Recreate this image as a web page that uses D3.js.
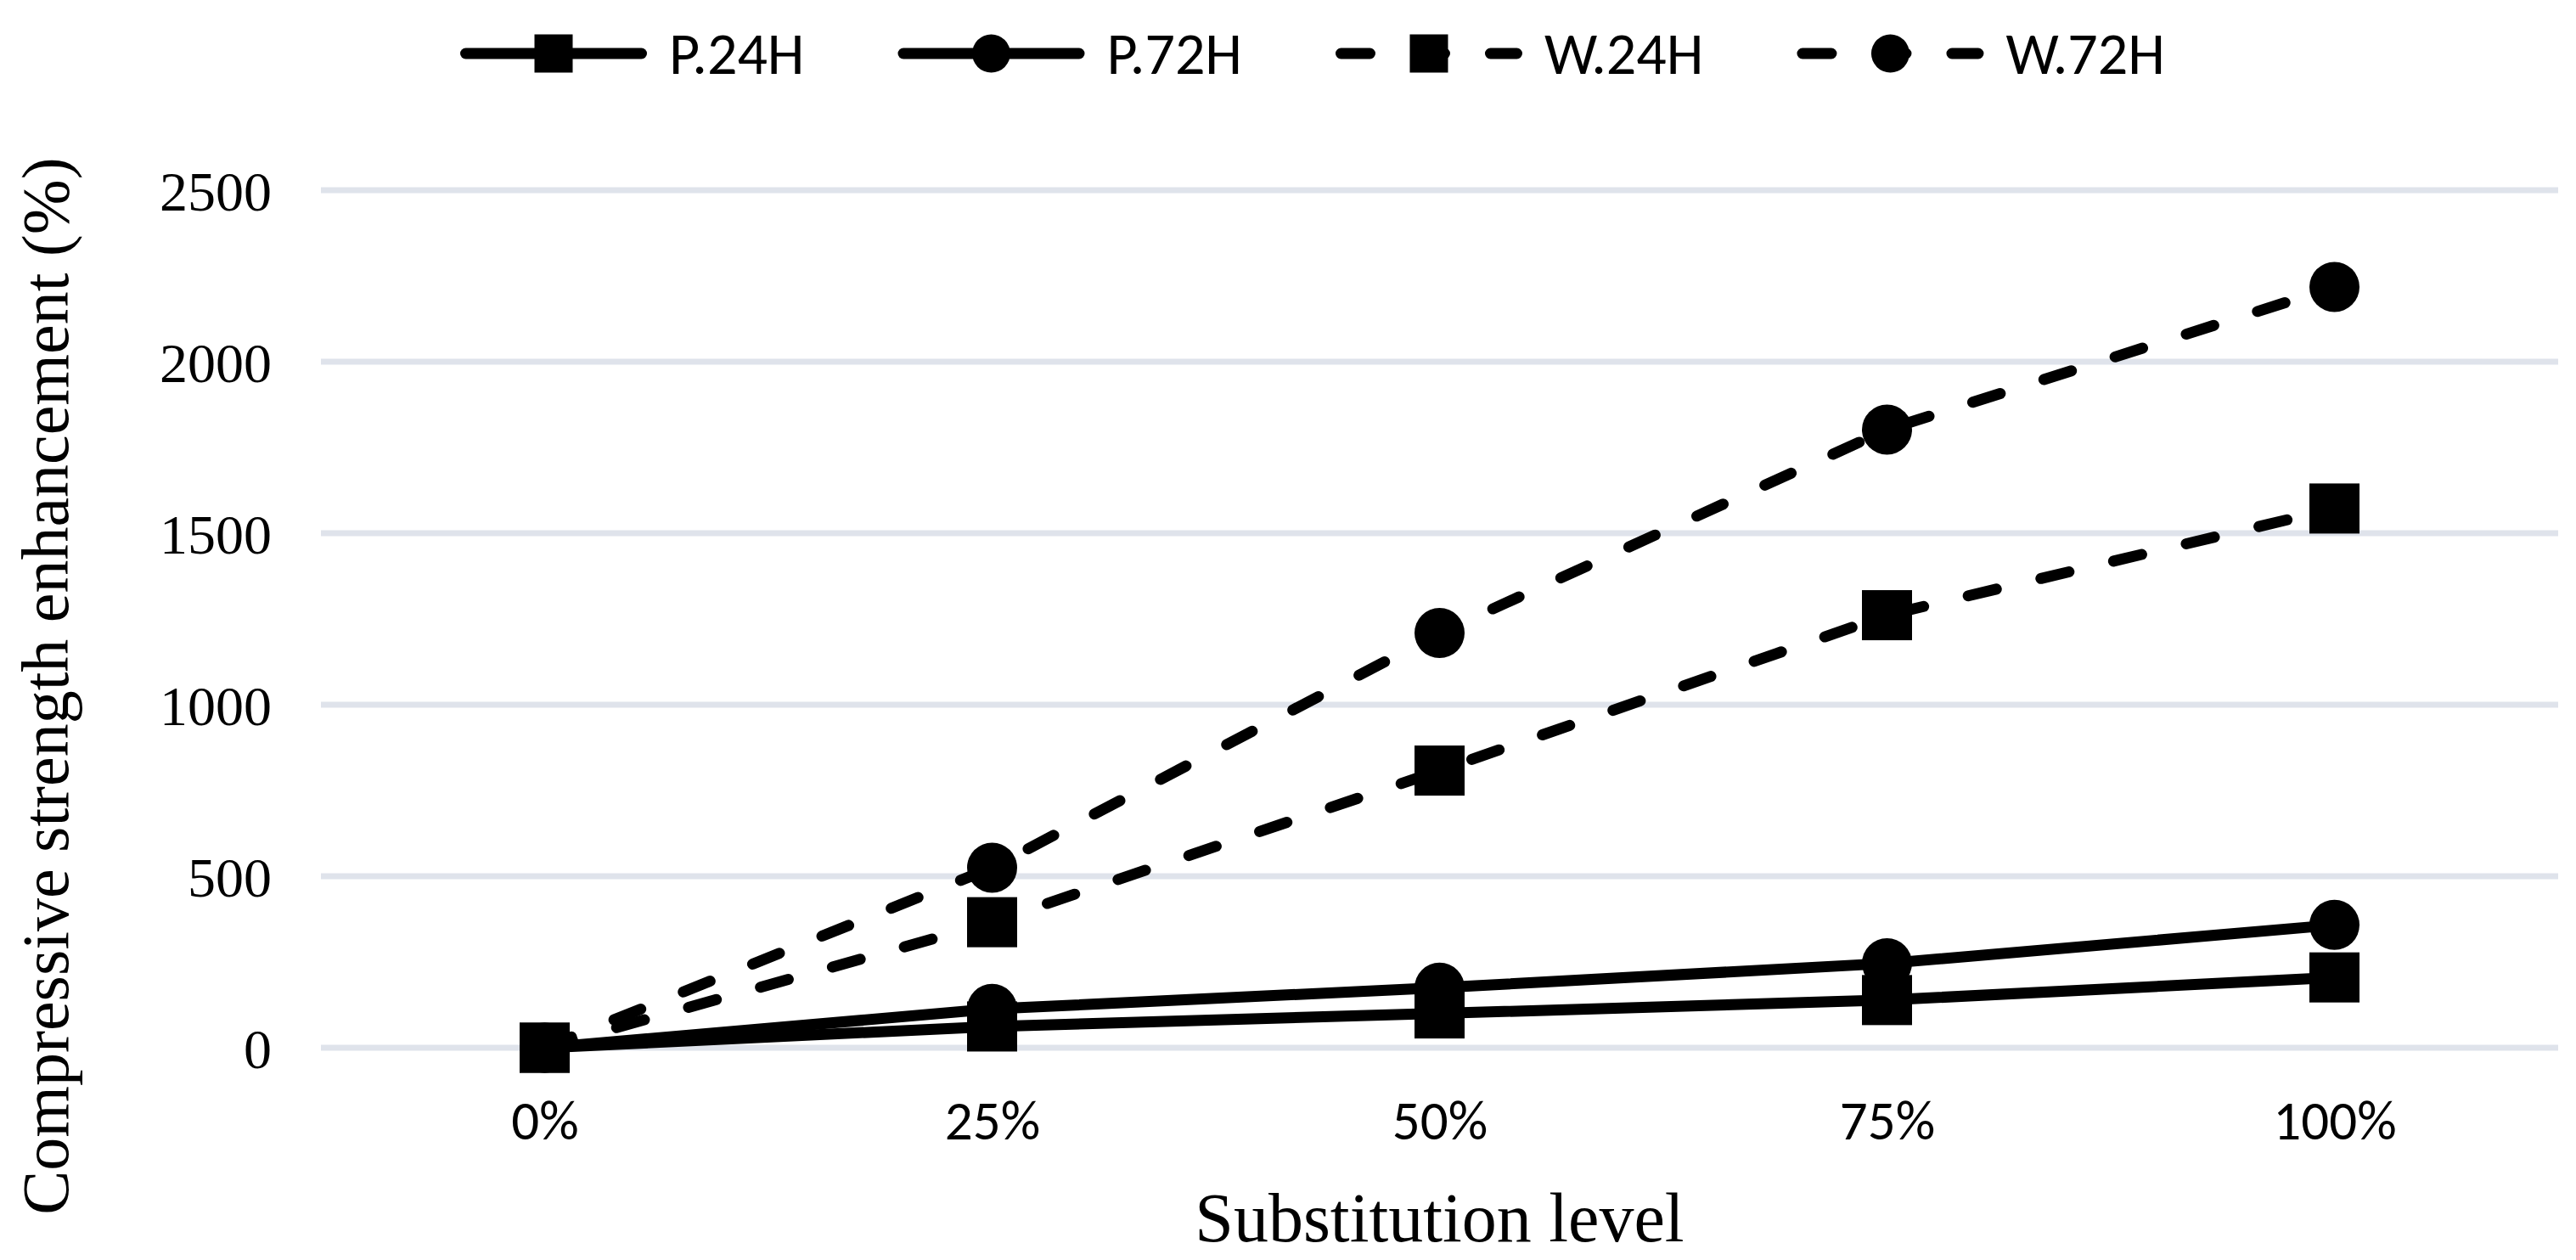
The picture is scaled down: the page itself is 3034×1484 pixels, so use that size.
<!DOCTYPE html>
<html>
<head>
<meta charset="utf-8">
<script src="https://cdn.jsdelivr.net/npm/d3@7"></script>
<style>
    body { margin: 0; background: #fff; }
    .tick-y { font-family: "Liberation Serif", "Times New Roman", serif; font-size: 66px; fill: #000; }
    .tick-x { font-family: Carlito, Calibri, Lato, sans-serif; font-size: 65px; fill: #000; }
    .axis-title { font-family: "Liberation Serif", "Times New Roman", serif; fill: #000; }
    .legend-text { font-family: Carlito, Calibri, Lato, sans-serif; font-size: 70px; fill: #000; }
</style>
</head>
<body>
<script>
(function() {
    // chart data
    const categories = ["0%", "25%", "50%", "75%", "100%"];
    const seriesNames = ["P.24H", "P.72H", "W.24H", "W.72H"];
    const p24 = [0, 62, 100, 139, 205];
    const p72 = [0, 113, 175, 246, 358];
    const w24 = [0, 366, 808, 1261, 1572];
    const w72 = [0, 525, 1209, 1802, 2218];
    const yTicks = [0, 500, 1000, 1500, 2000, 2500];

    const totalWidth = 3034;
    const totalHeight = 1484;
    const margin = { top: 224, right: 21, bottom: 250, left: 378 };
    const width = totalWidth - margin.left - margin.right;
    const height = totalHeight - margin.top - margin.bottom;

    const series = [
        { name: seriesNames[0], values: p24, marker: "square", dashed: false },
        { name: seriesNames[1], values: p72, marker: "circle", dashed: false },
        { name: seriesNames[2], values: w24, marker: "square", dashed: true },
        { name: seriesNames[3], values: w72, marker: "circle", dashed: true }
    ];

    const root = d3.select("body")
        .append("svg")
        .attr("width", totalWidth)
        .attr("height", totalHeight);

    const svg = root.append("g")
        .attr("transform", "translate(" + margin.left + "," + margin.top + ")");

    const xScale = d3.scalePoint().domain(categories).range([0, width]).padding(0.5);
    const yScale = d3.scaleLinear().domain([0, 2500]).range([height, 0]);

    // gridlines
    svg.append("g")
        .selectAll("line")
        .data(yTicks)
        .enter().append("line")
        .attr("x1", 0)
        .attr("x2", width)
        .attr("y1", d => yScale(d))
        .attr("y2", d => yScale(d))
        .style("stroke", "#dfe3eb")
        .style("stroke-width", 7);

    // Y axis labels
    const yAxis = svg.append("g")
        .call(d3.axisLeft(yScale).tickValues(yTicks).tickFormat(d3.format("d")).tickSize(0).tickPadding(58));
    yAxis.select(".domain").remove();
    yAxis.selectAll("text")
        .attr("class", "tick-y")
        .attr("dy", "0.35em")
        .attr("font-family", null)
        .attr("font-size", null);

    // X axis labels
    const xAxis = svg.append("g")
        .attr("transform", "translate(0," + height + ")")
        .call(d3.axisBottom(xScale).tickSize(0).tickPadding(0));
    xAxis.select(".domain").remove();
    xAxis.selectAll("text")
        .attr("class", "tick-x")
        .attr("y", 108)
        .attr("dy", 0)
        .attr("font-family", null)
        .attr("font-size", null);

    // axis titles
    root.append("text")
        .attr("class", "axis-title")
        .attr("x", margin.left + width / 2)
        .attr("y", 1462)
        .attr("text-anchor", "middle")
        .attr("style", "font-size: 82px;")
        .text("Substitution level");

    root.append("text")
        .attr("class", "axis-title")
        .attr("transform", "translate(80,808) rotate(-90)")
        .attr("text-anchor", "middle")
        .attr("style", "font-size: 78px;")
        .text("Compressive strength enhancement (%)");

    const line = d3.line()
        .x((d, i) => xScale(categories[i]))
        .y(d => yScale(d));

    function drawMarker(g, type, x, y, size) {
        if (type === "square") {
            g.append("rect")
                .attr("x", x - size / 2)
                .attr("y", y - size / 2)
                .attr("width", size)
                .attr("height", size)
                .style("fill", "#000");
        } else {
            g.append("circle")
                .attr("cx", x)
                .attr("cy", y)
                .attr("r", size / 2)
                .style("fill", "#000");
        }
    }

    // lines and markers
    series.forEach(s => {
        const g = svg.append("g");
        g.append("path")
            .datum(s.values)
            .attr("d", line)
            .style("fill", "none")
            .style("stroke", "#000")
            .style("stroke-width", 13)
            .style("stroke-linecap", s.dashed ? "round" : "butt")
            .style("stroke-linejoin", "round")
            .style("stroke-dasharray", s.dashed ? "34,54" : null);
        s.values.forEach((v, i) => drawMarker(g, s.marker, xScale(categories[i]), yScale(v), 59));
    });

    // legend
    const legend = root.append("g").attr("transform", "translate(0,63)");
    let lx = 542;
    series.forEach(s => {
        const item = legend.append("g").attr("transform", "translate(" + lx + ",0)");
        item.append("line")
            .attr("x1", 6.5)
            .attr("x2", 220 - 6.5)
            .attr("y1", 0)
            .attr("y2", 0)
            .style("stroke", "#000")
            .style("stroke-width", 13)
            .style("stroke-linecap", "round")
            .style("stroke-dasharray", s.dashed ? "34,54" : null);
        drawMarker(item, s.marker, 110, 0, 45);
        const t = item.append("text")
            .attr("class", "legend-text")
            .attr("x", 246)
            .attr("y", 24)
            .text(s.name);
        lx += 246 + t.node().getComputedTextLength() + 110;
    });
})();
</script>
</body>
</html>
